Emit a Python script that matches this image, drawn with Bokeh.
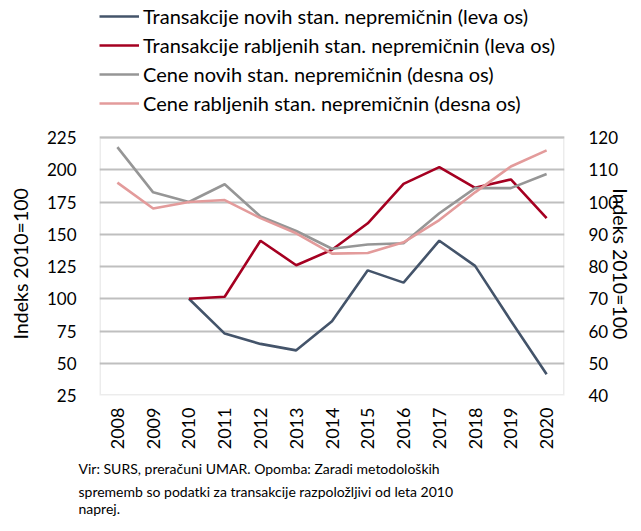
from bokeh.plotting import figure
from bokeh.models import (Range1d, LinearAxis, FactorRange, Legend, LegendItem,
                          Title, FixedTicker, BoxAnnotation)
from bokeh.embed import file_html
from bokeh.resources import INLINE
from math import pi

years = [str(y) for y in range(2008, 2021)]

trans_new_years = [str(y) for y in range(2010, 2021)]
trans_new = [100, 73, 65, 60, 82.5, 122, 112.5, 145, 125.5, 83, 41.5]
trans_used = [100, 101.5, 145, 126, 138, 158.5, 189, 202, 186, 192.5, 162.5]

price_new = [117, 103, 100, 105.5, 95.5, 91, 85.5, 86.8, 87.2, 96.5, 104.3, 104.3, 108.7]
price_used = [106, 98, 100, 100.6, 95, 90.3, 84, 84.2, 87.5, 94.4, 103, 111, 116]

labels = ["Transakcije novih stan. nepremičnin (leva os)",
          "Transakcije rabljenih stan. nepremičnin (leva os)",
          "Cene novih stan. nepremičnin (desna os)",
          "Cene rabljenih stan. nepremičnin (desna os)"]
colors = ["#44546A", "#A50021", "#969696", "#E39B9B"]

left_ticks = [25, 50, 75, 100, 125, 150, 175, 200, 225]
right_ticks = [40, 50, 60, 70, 80, 90, 100, 110, 120]

axis_title = "Indeks 2010=100"
note_lines = ["Vir: SURS, preračuni UMAR. Opomba: Zaradi metodoloških",
              "sprememb so podatki za transakcije razpoložljivi od leta 2010",
              "naprej."]

FONT = "Lato"
LW = 2.6

# The frame reaches the top of the canvas so the legend can sit inside it;
# the visible plot box spans only 25..225 (left) / 40..120 (right).
FRAME_TOP_PX = 395.0
PLOT_TOP_PX = 137.0
lo_l, hi_l = left_ticks[0], left_ticks[-1]
lo_r, hi_r = right_ticks[0], right_ticks[-1]
ext = FRAME_TOP_PX / (FRAME_TOP_PX - PLOT_TOP_PX)
left_end = lo_l + (hi_l - lo_l) * ext
right_end = lo_r + (hi_r - lo_r) * ext

p = figure(width=641, height=531, x_range=FactorRange(*years),
           y_range=Range1d(lo_l, left_end),
           output_backend="svg", toolbar_location=None,
           min_border_left=99, min_border_right=77, min_border_top=0, min_border_bottom=136)
p.extra_y_ranges = {"right": Range1d(lo_r, right_end)}

p.outline_line_color = None
p.xgrid.grid_line_color = None
p.ygrid.grid_line_color = "#BFBFBF"
p.ygrid.grid_line_width = 2
p.ygrid.ticker = FixedTicker(ticks=left_ticks)

p.add_layout(BoxAnnotation(top=hi_l, bottom=lo_l, fill_alpha=0,
                           line_color="#BFBFBF", line_width=3, level="underlay"))

r1 = p.line(trans_new_years, trans_new, color=colors[0], line_width=LW)
r2 = p.line(trans_new_years, trans_used, color=colors[1], line_width=LW)
r3 = p.line(years, price_new, color=colors[2], line_width=LW, y_range_name="right")
r4 = p.line(years, price_used, color=colors[3], line_width=LW, y_range_name="right")

yl = p.yaxis[0]
yl.ticker = FixedTicker(ticks=left_ticks)
yr = LinearAxis(y_range_name="right", ticker=FixedTicker(ticks=right_ticks))
p.add_layout(yr, "right")

# em spaces shift the centred axis titles down beside the 25..225 box
pad = "\u2003" * 9
yl.axis_label = axis_title + pad
yr.axis_label = pad + axis_title
for ax in [yl, yr]:
    ax.axis_label_text_font = FONT
    ax.axis_label_text_font_size = "19.5px"
    ax.axis_label_text_font_style = "normal"
    ax.axis_label_text_color = "#000000"
    ax.major_label_text_font = FONT
    ax.major_label_text_font_size = "17px"
    ax.major_label_text_color = "#000000"
    ax.axis_line_color = None
    ax.major_tick_line_color = None
    ax.minor_tick_line_color = None
yl.major_label_standoff = 17
yl.axis_label_standoff = 12
yr.major_label_standoff = 18
yr.axis_label_standoff = -12

xa = p.xaxis[0]
xa.major_label_orientation = pi / 2
xa.major_label_text_font = FONT
xa.major_label_text_font_size = "18px"
xa.major_label_text_color = "#000000"
xa.axis_line_color = None
xa.major_tick_line_color = None
xa.minor_tick_line_color = None
xa.major_label_standoff = 6

legend = Legend(items=[LegendItem(label=labels[0], renderers=[r1]),
                       LegendItem(label=labels[1], renderers=[r2]),
                       LegendItem(label=labels[2], renderers=[r3]),
                       LegendItem(label=labels[3], renderers=[r4])],
                location=(0, 280), orientation="vertical",
                border_line_color=None, background_fill_alpha=0,
                padding=0, spacing=5, margin=0,
                glyph_width=40, glyph_height=20, label_height=20,
                label_standoff=4, label_text_font=FONT, label_text_font_size="20px",
                label_text_color="#000000", label_text_baseline="middle")
p.add_layout(legend, "center")

note_standoffs = [11, -4, 0]
for t, s in zip(note_lines, note_standoffs):
    p.add_layout(Title(text=t, text_font=FONT, text_font_size="14px",
                       text_font_style="normal", text_color="#000000",
                       align="left", offset=-21, standoff=s), "below")

open("out.html", "w").write(file_html(p, INLINE))
